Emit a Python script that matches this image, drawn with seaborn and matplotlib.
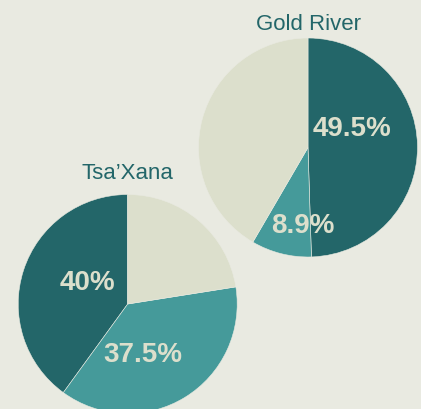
import matplotlib
matplotlib.use("Agg")
import matplotlib.pyplot as plt
import seaborn as sns

# Data
towns = ["Gold River", "Tsa\u2019Xana"]
gold_river_vals = [49.5, 8.9, 41.6]     # dark, medium, rest
tsaxana_vals = [40.0, 37.5, 22.5]       # dark, medium, rest

# Colours
BG = "#e9eae1"
DARK = "#236669"
MID = "#459a9a"
LIGHT = "#dcdfcc"

sns.set_theme(style="white", rc={"figure.facecolor": BG, "axes.facecolor": BG})
plt.rcParams["font.family"] = ["Liberation Sans", "DejaVu Sans"]

fig = plt.figure(figsize=(4.21, 4.09), dpi=100)

W, H = 421, 409
R = 109.5


def make_ax(cx, cy):
    # cx, cy = pie centre in pixels (from top-left)
    return fig.add_axes([(cx - R) / W, (H - cy - R) / H, 2 * R / W, 2 * R / H])


def draw_pie(ax, vals, counterclock, label_pos, title, title_y):
    ax.pie(
        vals,
        colors=[DARK, MID, LIGHT],
        startangle=90,
        counterclock=counterclock,
        radius=1,
        wedgeprops=dict(linewidth=0.4, edgecolor=BG),
    )
    # percent labels for the two teal slices only
    for v, (x, y) in zip(vals[:2], label_pos):
        ax.text(x, y, f"{v:g}%", ha="center", va="center",
                color=LIGHT, fontsize=20, fontweight="bold")
    ax.text(0, title_y, title, ha="center", va="baseline",
            color=DARK, fontsize=16)
    ax.set_xlim(-1, 1)
    ax.set_ylim(-1, 1)
    ax.set_aspect("equal")
    ax.axis("off")


ax1 = make_ax(308, 147.5)
draw_pie(ax1, gold_river_vals, False,
         [(0.40, 0.17), (-0.05, -0.72)], towns[0], 1.07)

ax2 = make_ax(127.7, 304)
draw_pie(ax2, tsaxana_vals, True,
         [(-0.37, 0.19), (0.14, -0.47)], towns[1], 1.14)

fig.savefig("out.png", dpi=100, facecolor=BG)
